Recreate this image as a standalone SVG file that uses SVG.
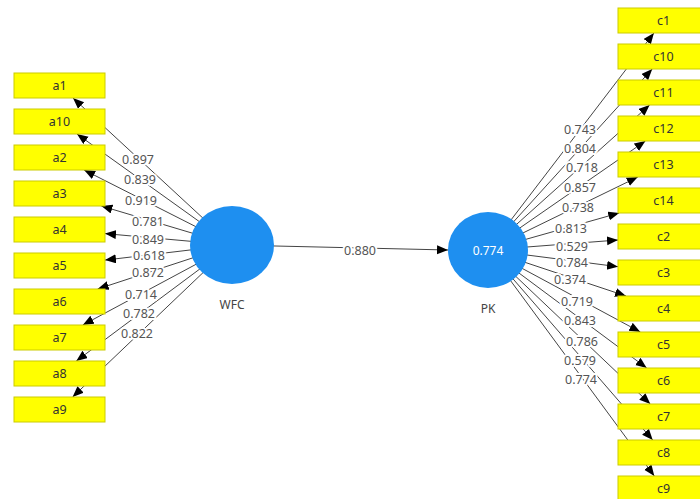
<svg xmlns="http://www.w3.org/2000/svg" width="700" height="499" viewBox="0 0 700 499">
<style>
.box{fill:#ffff00;stroke:#cccc00;stroke-width:1}
.bt{font-family:"Noto Sans","Open Sans",sans-serif;font-size:12.5px;fill:#333;text-anchor:middle;dominant-baseline:central}
.lv{fill:#1e8ff0}
.lvt{font-family:"Noto Sans","Open Sans",sans-serif;font-size:12px;fill:#444;text-anchor:middle;dominant-baseline:central}
.in{font-family:"Noto Sans","Open Sans",sans-serif;font-size:12px;fill:#fff;text-anchor:middle;dominant-baseline:central}
.ln{stroke:#444;stroke-width:1;fill:none;marker-end:url(#ah)}
.lb{font-family:"Noto Sans","Open Sans",sans-serif;font-size:12.5px;fill:#555;text-anchor:middle;dominant-baseline:central;stroke:#fff;stroke-width:4;stroke-linejoin:round;paint-order:stroke}
</style>
<defs>
<marker id="ah" markerUnits="userSpaceOnUse" markerWidth="12" markerHeight="10" refX="11" refY="4.5" orient="auto">
<path d="M0,0 L11,4.5 L0,9 z" fill="#000"/>
</marker>
</defs>
<rect width="700" height="499" fill="#fff"/>
<g id="connectors">
<line class="ln" x1="232" y1="245" x2="73" y2="98"/>
<line class="ln" x1="232" y1="245" x2="77" y2="134"/>
<line class="ln" x1="232" y1="245" x2="84.1" y2="170"/>
<line class="ln" x1="232" y1="245" x2="101.4" y2="206"/>
<line class="ln" x1="232" y1="245" x2="105" y2="233.6"/>
<line class="ln" x1="232" y1="245" x2="105" y2="260.1"/>
<line class="ln" x1="232" y1="245" x2="97.7" y2="289"/>
<line class="ln" x1="232" y1="245" x2="82.8" y2="325"/>
<line class="ln" x1="232" y1="245" x2="76.3" y2="361"/>
<line class="ln" x1="232" y1="245" x2="72.6" y2="397"/>
<line class="ln" x1="232" y1="245" x2="448" y2="250"/>
<line class="ln" x1="488" y1="250" x2="653.9" y2="33"/>
<line class="ln" x1="488" y1="250" x2="652.2" y2="69"/>
<line class="ln" x1="488" y1="250" x2="649.6" y2="105"/>
<line class="ln" x1="488" y1="250" x2="645.4" y2="141"/>
<line class="ln" x1="488" y1="250" x2="637.8" y2="177"/>
<line class="ln" x1="488" y1="250" x2="619.2" y2="213"/>
<line class="ln" x1="488" y1="250" x2="618" y2="240"/>
<line class="ln" x1="488" y1="250" x2="618" y2="266.7"/>
<line class="ln" x1="488" y1="250" x2="626" y2="296"/>
<line class="ln" x1="488" y1="250" x2="640.3" y2="332"/>
<line class="ln" x1="488" y1="250" x2="646.7" y2="368"/>
<line class="ln" x1="488" y1="250" x2="650.3" y2="404"/>
<line class="ln" x1="488" y1="250" x2="652.7" y2="440"/>
<line class="ln" x1="488" y1="250" x2="654.3" y2="476"/>
<text class="lb" x="138" y="159">0.897</text>
<text class="lb" x="140" y="179">0.839</text>
<text class="lb" x="141" y="200">0.919</text>
<text class="lb" x="148" y="221">0.781</text>
<text class="lb" x="148" y="239">0.849</text>
<text class="lb" x="149" y="255">0.618</text>
<text class="lb" x="148" y="272">0.872</text>
<text class="lb" x="141" y="294">0.714</text>
<text class="lb" x="139" y="313">0.782</text>
<text class="lb" x="137" y="333">0.822</text>
<text class="lb" x="360" y="250">0.880</text>
<text class="lb" x="580" y="129">0.743</text>
<text class="lb" x="580" y="148">0.804</text>
<text class="lb" x="582" y="167">0.718</text>
<text class="lb" x="580" y="187">0.857</text>
<text class="lb" x="578" y="207">0.738</text>
<text class="lb" x="571" y="228">0.813</text>
<text class="lb" x="572" y="246">0.529</text>
<text class="lb" x="572" y="262">0.784</text>
<text class="lb" x="570" y="279">0.374</text>
<text class="lb" x="577" y="301">0.719</text>
<text class="lb" x="580" y="320">0.843</text>
<text class="lb" x="582" y="341">0.786</text>
<text class="lb" x="580" y="360">0.579</text>
<text class="lb" x="581" y="379">0.774</text>
</g>
<g id="WFC"><ellipse class="lv" cx="232" cy="245" rx="42" ry="39"/><text class="lvt" x="232" y="304">WFC</text></g>
<g id="PK"><ellipse class="lv" cx="488" cy="250" rx="40" ry="38"/><text class="in" x="488" y="250">0.774</text><text class="lvt" x="488" y="308">PK</text></g>
<g id="a1"><rect class="box" x="14" y="73" width="91" height="25"/><text class="bt" x="59.5" y="85.5">a1</text></g>
<g id="a10"><rect class="box" x="14" y="109" width="91" height="25"/><text class="bt" x="59.5" y="121.5">a10</text></g>
<g id="a2"><rect class="box" x="14" y="145" width="91" height="25"/><text class="bt" x="59.5" y="157.5">a2</text></g>
<g id="a3"><rect class="box" x="14" y="181" width="91" height="25"/><text class="bt" x="59.5" y="193.5">a3</text></g>
<g id="a4"><rect class="box" x="14" y="217" width="91" height="25"/><text class="bt" x="59.5" y="229.5">a4</text></g>
<g id="a5"><rect class="box" x="14" y="253" width="91" height="25"/><text class="bt" x="59.5" y="265.5">a5</text></g>
<g id="a6"><rect class="box" x="14" y="289" width="91" height="25"/><text class="bt" x="59.5" y="301.5">a6</text></g>
<g id="a7"><rect class="box" x="14" y="325" width="91" height="25"/><text class="bt" x="59.5" y="337.5">a7</text></g>
<g id="a8"><rect class="box" x="14" y="361" width="91" height="25"/><text class="bt" x="59.5" y="373.5">a8</text></g>
<g id="a9"><rect class="box" x="14" y="397" width="91" height="25"/><text class="bt" x="59.5" y="409.5">a9</text></g>
<g id="c1"><rect class="box" x="618" y="8" width="91" height="25"/><text class="bt" x="663.5" y="20.5">c1</text></g>
<g id="c10"><rect class="box" x="618" y="44" width="91" height="25"/><text class="bt" x="663.5" y="56.5">c10</text></g>
<g id="c11"><rect class="box" x="618" y="80" width="91" height="25"/><text class="bt" x="663.5" y="92.5">c11</text></g>
<g id="c12"><rect class="box" x="618" y="116" width="91" height="25"/><text class="bt" x="663.5" y="128.5">c12</text></g>
<g id="c13"><rect class="box" x="618" y="152" width="91" height="25"/><text class="bt" x="663.5" y="164.5">c13</text></g>
<g id="c14"><rect class="box" x="618" y="188" width="91" height="25"/><text class="bt" x="663.5" y="200.5">c14</text></g>
<g id="c2"><rect class="box" x="618" y="224" width="91" height="25"/><text class="bt" x="663.5" y="236.5">c2</text></g>
<g id="c3"><rect class="box" x="618" y="260" width="91" height="25"/><text class="bt" x="663.5" y="272.5">c3</text></g>
<g id="c4"><rect class="box" x="618" y="296" width="91" height="25"/><text class="bt" x="663.5" y="308.5">c4</text></g>
<g id="c5"><rect class="box" x="618" y="332" width="91" height="25"/><text class="bt" x="663.5" y="344.5">c5</text></g>
<g id="c6"><rect class="box" x="618" y="368" width="91" height="25"/><text class="bt" x="663.5" y="380.5">c6</text></g>
<g id="c7"><rect class="box" x="618" y="404" width="91" height="25"/><text class="bt" x="663.5" y="416.5">c7</text></g>
<g id="c8"><rect class="box" x="618" y="440" width="91" height="25"/><text class="bt" x="663.5" y="452.5">c8</text></g>
<g id="c9"><rect class="box" x="618" y="476" width="91" height="25"/><text class="bt" x="663.5" y="488.5">c9</text></g>
</svg>
